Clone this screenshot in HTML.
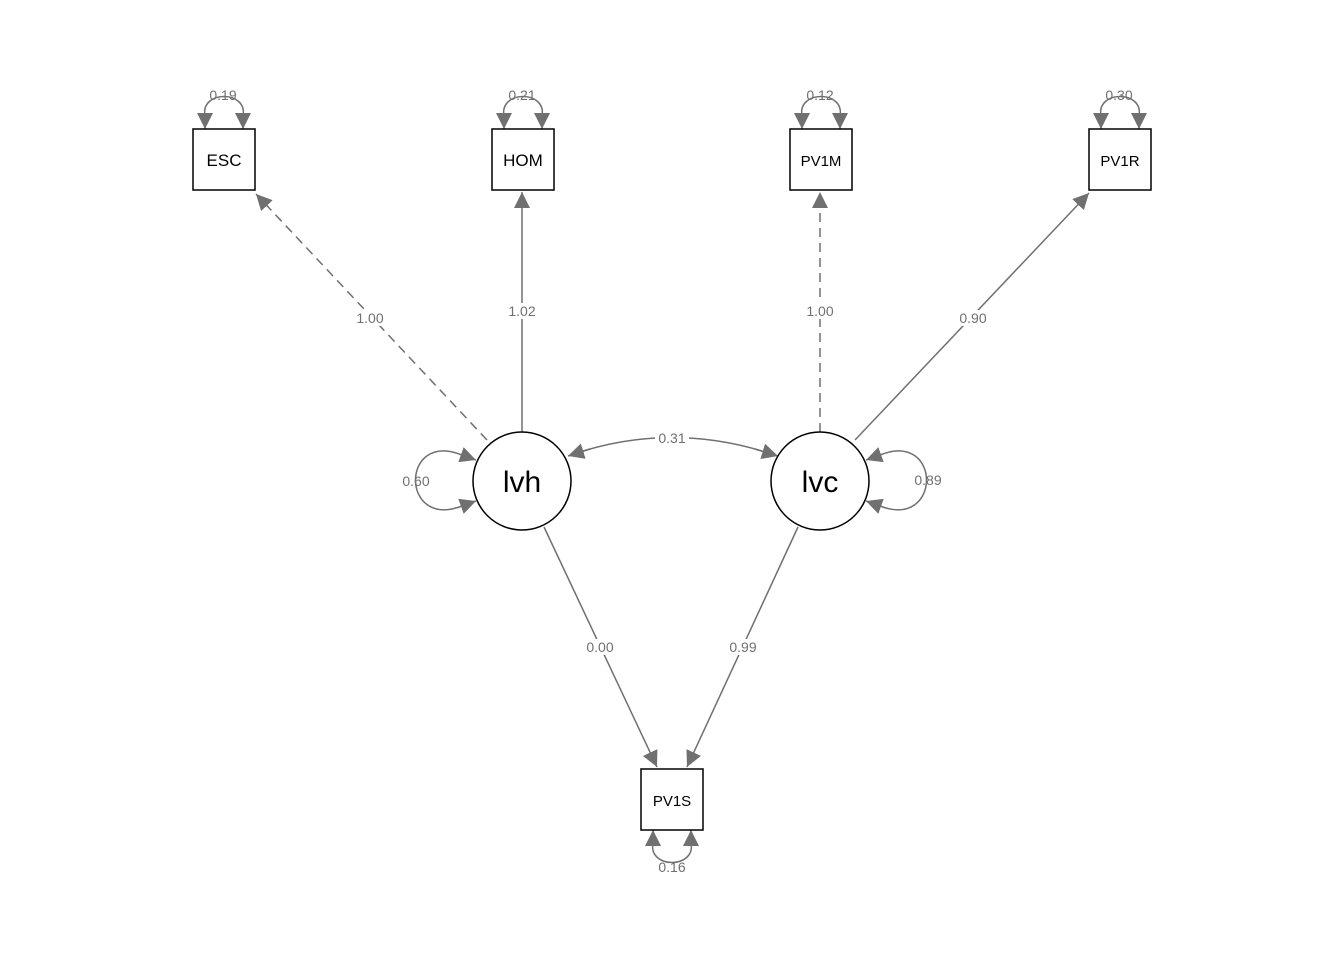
<!DOCTYPE html>
<html><head><style>body{margin:0;background:#fff}svg{display:block}text{font-family:"Liberation Sans",sans-serif}</style></head><body>
<svg width="1344" height="960" xmlns="http://www.w3.org/2000/svg">
<defs><marker id="a" viewBox="0 0 10 10" refX="10" refY="5" markerWidth="6.5" markerHeight="6.5" orient="auto" markerUnits="userSpaceOnUse"><path d="M0,0L10,5L0,10z" fill="#707070"/></marker>
<marker id="b" viewBox="0 0 10 10" refX="10" refY="5" markerWidth="16" markerHeight="16" orient="auto" markerUnits="userSpaceOnUse"><path d="M0,0L10,5L0,10z" fill="#707070"/></marker></defs>
<g stroke="#707070" stroke-width="1.5" fill="none">
<line x1="487" y1="440" x2="256" y2="194" stroke-dasharray="9,6" marker-end="url(#b)"/>
<line x1="522" y1="432" x2="522" y2="192" marker-end="url(#b)"/>
<line x1="820" y1="432" x2="820" y2="192" stroke-dasharray="9,6" marker-end="url(#b)"/>
<line x1="855" y1="440" x2="1089" y2="193" marker-end="url(#b)"/>
<line x1="544" y1="527" x2="657" y2="767" marker-end="url(#b)"/>
<line x1="798" y1="527" x2="687" y2="767" marker-end="url(#b)"/>
<path d="M583,451 Q672,424 762,451" />
<path d="M590,449 L568,456" marker-end="url(#b)"/>
<path d="M755,449 L778,456" marker-end="url(#b)"/>
<path d="M462,455 C400,430 400,530 462,506"/>
<path d="M462,455 L476,460" marker-end="url(#b)"/>
<path d="M462,506 L476,501" marker-end="url(#b)"/>
<path d="M880,455 C942,430 942,530 880,506"/>
<path d="M880,455 L866,460" marker-end="url(#b)"/>
<path d="M880,506 L866,501" marker-end="url(#b)"/>
</g>
<g stroke="#707070" stroke-width="1.5" fill="none" id="loops">
<path d="M205,116 C200,90 248,90 243,116"/><path d="M205,114 L205,129" marker-end="url(#b)"/><path d="M243,114 L243,129" marker-end="url(#b)"/>
<path d="M504,116 C499,90 547,90 542,116"/><path d="M504,114 L504,129" marker-end="url(#b)"/><path d="M542,114 L542,129" marker-end="url(#b)"/>
<path d="M802,116 C797,90 845,90 840,116"/><path d="M802,114 L802,129" marker-end="url(#b)"/><path d="M840,114 L840,129" marker-end="url(#b)"/>
<path d="M1101,116 C1096,90 1144,90 1139,116"/><path d="M1101,114 L1101,129" marker-end="url(#b)"/><path d="M1139,114 L1139,129" marker-end="url(#b)"/>
<path d="M653,843 C648,869 696,869 691,843"/><path d="M653,845 L653,830" marker-end="url(#b)"/><path d="M691,845 L691,830" marker-end="url(#b)"/>
</g>
<g fill="#fff" stroke="#000" stroke-width="1.5">
<rect x="193" y="129" width="62" height="61"/><rect x="492" y="129" width="62" height="61"/>
<rect x="790" y="129" width="62" height="61"/><rect x="1089" y="129" width="62" height="61"/>
<rect x="641" y="769" width="62" height="61"/>
<circle cx="522" cy="481" r="49"/><circle cx="820" cy="481" r="49"/>
</g>
<g font-size="17" text-anchor="middle" fill="#000">
<text x="224" y="166">ESC</text><text x="523" y="166">HOM</text><text x="821" y="166" font-size="15">PV1M</text><text x="1120" y="166" font-size="15">PV1R</text><text x="672" y="806" font-size="15">PV1S</text>
<text x="522" y="492" font-size="30">lvh</text><text x="820" y="492" font-size="30">lvc</text>
</g>
<g font-size="14" text-anchor="middle" fill="#707070">
<rect x="353" y="310" width="34" height="16" fill="#fff"/><text x="370" y="323">1.00</text>
<rect x="505" y="303" width="34" height="16" fill="#fff"/><text x="522" y="316">1.02</text>
<rect x="803" y="303" width="34" height="16" fill="#fff"/><text x="820" y="316">1.00</text>
<rect x="956" y="310" width="34" height="16" fill="#fff"/><text x="973" y="323">0.90</text>
<rect x="583" y="639" width="34" height="16" fill="#fff"/><text x="600" y="652">0.00</text>
<rect x="726" y="639" width="34" height="16" fill="#fff"/><text x="743" y="652">0.99</text>
<rect x="655" y="430" width="34" height="16" fill="#fff"/><text x="672" y="443">0.31</text>
<text x="416" y="486">0.60</text><text x="928" y="485">0.89</text>
<text x="223" y="100">0.19</text><text x="522" y="100">0.21</text><text x="820" y="100">0.12</text><text x="1119" y="100">0.30</text><text x="672" y="872">0.16</text>
</g>
</svg>
</body></html>
